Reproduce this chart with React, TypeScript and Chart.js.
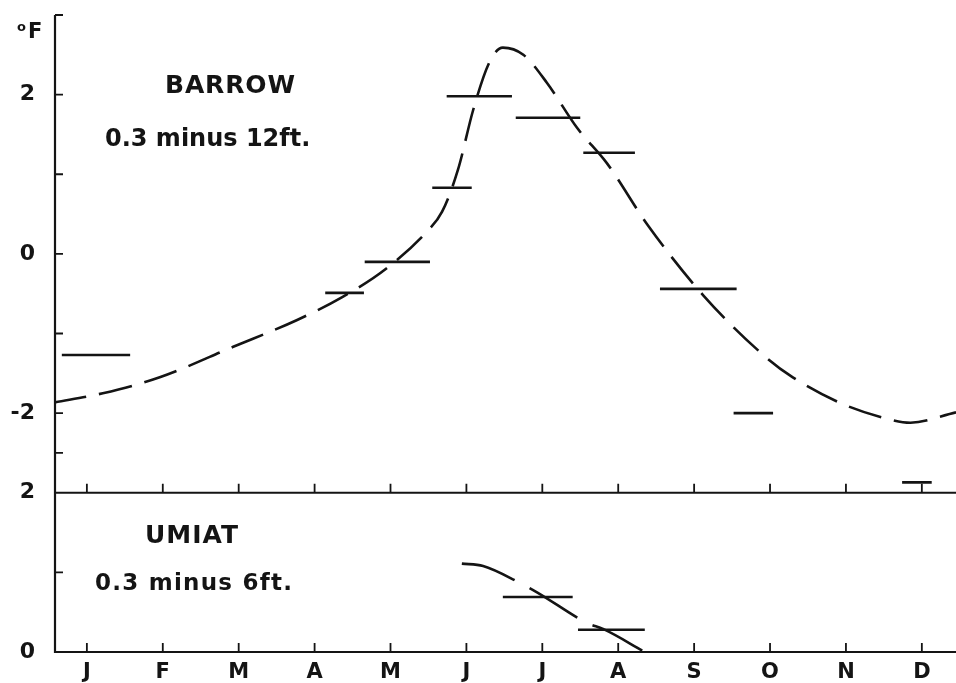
import { useEffect, useRef } from 'react';
import { Chart, registerables } from 'chart.js';

Chart.register(...registerables);

// Month axis: labels sit at mid-month; x is measured in months from Jan 1.
const MONTH_LABELS = ['J', 'F', 'M', 'A', 'M', 'J', 'J', 'A', 'S', 'O', 'N', 'D'];
const MONTH_CENTERS = [0.5, 1.5, 2.5, 3.5, 4.5, 5.5, 6.5, 7.5, 8.5, 9.5, 10.5, 11.5];

// Temperature axes (°F)
const BARROW_TICK_LABELS = [-2, 0, 2];
const BARROW_TICK_MARKS = [3, 2, 1, 0, -1, -2, -2.5];
const UMIAT_TICK_LABELS = [0, 2];
const UMIAT_TICK_MARKS = [1];

// Barrow, 0.3 minus 12 ft: observed period means (start month, end month, °F)
const barrowStart = [0.17, 3.64, 4.16, 5.05, 5.24, 6.15, 7.04, 8.05, 9.02, 11.24];
const barrowEnd = [1.07, 4.15, 5.02, 5.57, 6.1, 7.0, 7.72, 9.06, 9.54, 11.63];
const barrowMean = [-1.27, -0.49, -0.1, 0.83, 1.98, 1.71, 1.27, -0.44, -2.0, -2.87];

// Barrow smoothed annual curve
const barrowCurveMonth = [0.05, 0.71, 1.46, 2.42, 3.27, 3.87, 4.45, 4.98, 5.18, 5.39, 5.59, 5.81, 5.98, 6.25, 6.56, 6.96, 7.35, 7.89, 8.62, 9.46, 9.8, 10.42, 11.0, 11.35, 11.95];
const barrowCurveTemp = [-1.87, -1.75, -1.55, -1.17, -0.83, -0.54, -0.18, 0.28, 0.53, 1.06, 1.81, 2.42, 2.59, 2.5, 2.15, 1.58, 1.14, 0.36, -0.52, -1.31, -1.55, -1.87, -2.06, -2.12, -1.99];

// Umiat, 0.3 minus 6 ft
const umiatStart = [5.98, 6.97];
const umiatEnd = [6.9, 7.85];
const umiatMean = [0.69, 0.28];
const umiatCurveMonth = [5.44, 5.72, 6.18, 6.43, 7.1, 7.3, 7.85];
const umiatCurveTemp = [1.11, 1.08, 0.88, 0.75, 0.36, 0.29, 0.0];

const INK = '#141414';
const FONT = '"DejaVu Sans", "Liberation Sans", Arial, sans-serif';

function segments(starts: number[], ends: number[], values: number[], axis: string) {
  return starts.map((s, i) => ({
    type: 'line' as const,
    data: [
      { x: s, y: values[i] },
      { x: ends[i], y: values[i] },
    ],
    yAxisID: axis,
    borderColor: INK,
    borderWidth: 2.6,
    pointRadius: 0,
    borderCapStyle: 'butt' as const,
  }));
}

function fitText(ctx: CanvasRenderingContext2D, text: string, x: number, y: number, size: number, width: number) {
  ctx.font = `bold ${size}px ${FONT}`;
  (ctx as any).letterSpacing = '0px';
  const w = ctx.measureText(text).width;
  const gap = Math.max(0, (width - w) / Math.max(1, text.length - 1));
  (ctx as any).letterSpacing = `${gap}px`;
  ctx.fillText(text, x, y);
  (ctx as any).letterSpacing = '0px';
}

const framePlugin = {
  id: 'frame',
  afterDatasetsDraw(chart: any) {
    const { ctx, chartArea, scales } = chart;
    const x = scales.x;
    const yTop = scales.yTop;
    const yBot = scales.yBot;
    const left = chartArea.left;
    const right = chartArea.right;
    const base = yBot.getPixelForValue(0);
    const divider = yBot.getPixelForValue(2);
    const top = yTop.getPixelForValue(3);

    ctx.save();
    ctx.strokeStyle = INK;
    ctx.lineWidth = 2.2;
    ctx.lineCap = 'butt';

    // axes and panel divider
    ctx.beginPath();
    ctx.moveTo(left, top);
    ctx.lineTo(left, base);
    ctx.lineTo(right, base);
    ctx.moveTo(left, divider);
    ctx.lineTo(right, divider);
    ctx.stroke();

    // inward tick marks
    ctx.lineWidth = 1.8;
    ctx.beginPath();
    BARROW_TICK_MARKS.forEach((v) => {
      const py = yTop.getPixelForValue(v);
      ctx.moveTo(left, py);
      ctx.lineTo(left + 8, py);
    });
    UMIAT_TICK_MARKS.forEach((v) => {
      const py = yBot.getPixelForValue(v);
      ctx.moveTo(left, py);
      ctx.lineTo(left + 8, py);
    });
    MONTH_CENTERS.forEach((m) => {
      const px = x.getPixelForValue(m);
      ctx.moveTo(px, base);
      ctx.lineTo(px, base - 9);
      ctx.moveTo(px, divider);
      ctx.lineTo(px, divider - 9);
    });
    ctx.stroke();

    // panel titles and unit
    ctx.fillStyle = INK;
    ctx.textAlign = 'left';
    ctx.textBaseline = 'alphabetic';
    ctx.font = `bold 13px ${FONT}`;
    ctx.fillText('o', 17, 31);
    ctx.font = `bold 21px ${FONT}`;
    ctx.fillText('F', 28, 38);

    fitText(ctx, 'BARROW', 165, 93, 25, 130);
    fitText(ctx, '0.3 minus 12ft.', 105, 146, 24, 205);
    fitText(ctx, 'UMIAT', 145, 543, 25, 93);
    fitText(ctx, '0.3 minus 6ft.', 95, 590, 23, 197);
    ctx.restore();
  },
};

const noPad = (s: any) => {
  s.paddingTop = 0;
  s.paddingBottom = 0;
};

export default function App() {
  const canvasRef = useRef<HTMLCanvasElement | null>(null);

  useEffect(() => {
    const canvas = canvasRef.current;
    if (!canvas) return;

    const datasets: any[] = [
      ...segments(barrowStart, barrowEnd, barrowMean, 'yTop'),
      {
        type: 'line',
        data: barrowCurveMonth.map((m, i) => ({ x: m, y: barrowCurveTemp[i] })),
        yAxisID: 'yTop',
        borderColor: INK,
        borderWidth: 2.6,
        borderDash: [34, 13],
        pointRadius: 0,
        cubicInterpolationMode: 'monotone',
      },
      ...segments(umiatStart, umiatEnd, umiatMean, 'yBot'),
      {
        type: 'line',
        data: umiatCurveMonth.map((m, i) => ({ x: m, y: umiatCurveTemp[i] })),
        yAxisID: 'yBot',
        borderColor: INK,
        borderWidth: 2.6,
        borderDash: [56, 17],
        pointRadius: 0,
        cubicInterpolationMode: 'monotone',
      },
    ];

    const tickFont = { family: FONT, size: 22, weight: 'bold' as const };

    const chart = new Chart(canvas, {
      type: 'line',
      data: { datasets },
      options: {
        animation: false,
        responsive: false,
        maintainAspectRatio: false,
        events: [],
        layout: { padding: { top: 15, right: 0, left: 0, bottom: 0 } },
        plugins: { legend: { display: false }, tooltip: { enabled: false } },
        scales: {
          x: {
            type: 'linear',
            min: 0.08,
            max: 11.95,
            grid: { display: false },
            border: { display: false },
            afterBuildTicks: (s: any) => {
              s.ticks = MONTH_CENTERS.map((v) => ({ value: v }));
            },
            afterFit: (s: any) => {
              s.height = 31;
              s.paddingLeft = 0;
              s.paddingRight = 0;
            },
            ticks: {
              autoSkip: false,
              maxRotation: 0,
              padding: 0,
              color: INK,
              font: { family: FONT, size: 21, weight: 'bold' },
              callback: (_v: any, i: number) => MONTH_LABELS[i],
            },
          },
          yBot: {
            type: 'linear',
            position: 'left',
            stack: 'panels',
            stackWeight: 2,
            weight: 1,
            min: 0,
            max: 2,
            grid: { display: false },
            border: { display: false },
            afterBuildTicks: (s: any) => {
              s.ticks = UMIAT_TICK_LABELS.map((v) => ({ value: v }));
            },
            afterFit: (s: any) => {
              s.width = 55;
              noPad(s);
            },
            ticks: { padding: 12, color: INK, font: tickFont, callback: (v: any) => String(v) },
          },
          yTop: {
            type: 'linear',
            position: 'left',
            stack: 'panels',
            stackWeight: 6,
            weight: 2,
            min: -3,
            max: 3,
            grid: { display: false },
            border: { display: false },
            afterBuildTicks: (s: any) => {
              s.ticks = BARROW_TICK_LABELS.map((v) => ({ value: v }));
            },
            afterFit: (s: any) => {
              s.width = 55;
              noPad(s);
            },
            ticks: { padding: 12, color: INK, font: tickFont, callback: (v: any) => String(v) },
          },
        },
      } as any,
      plugins: [framePlugin],
    });

    return () => chart.destroy();
  }, []);

  return (
    <div style={{ position: 'fixed', left: 0, top: 0, width: 956, height: 683, background: '#fff' }}>
      <canvas ref={canvasRef} width={956} height={683} style={{ display: 'block' }} />
    </div>
  );
}
